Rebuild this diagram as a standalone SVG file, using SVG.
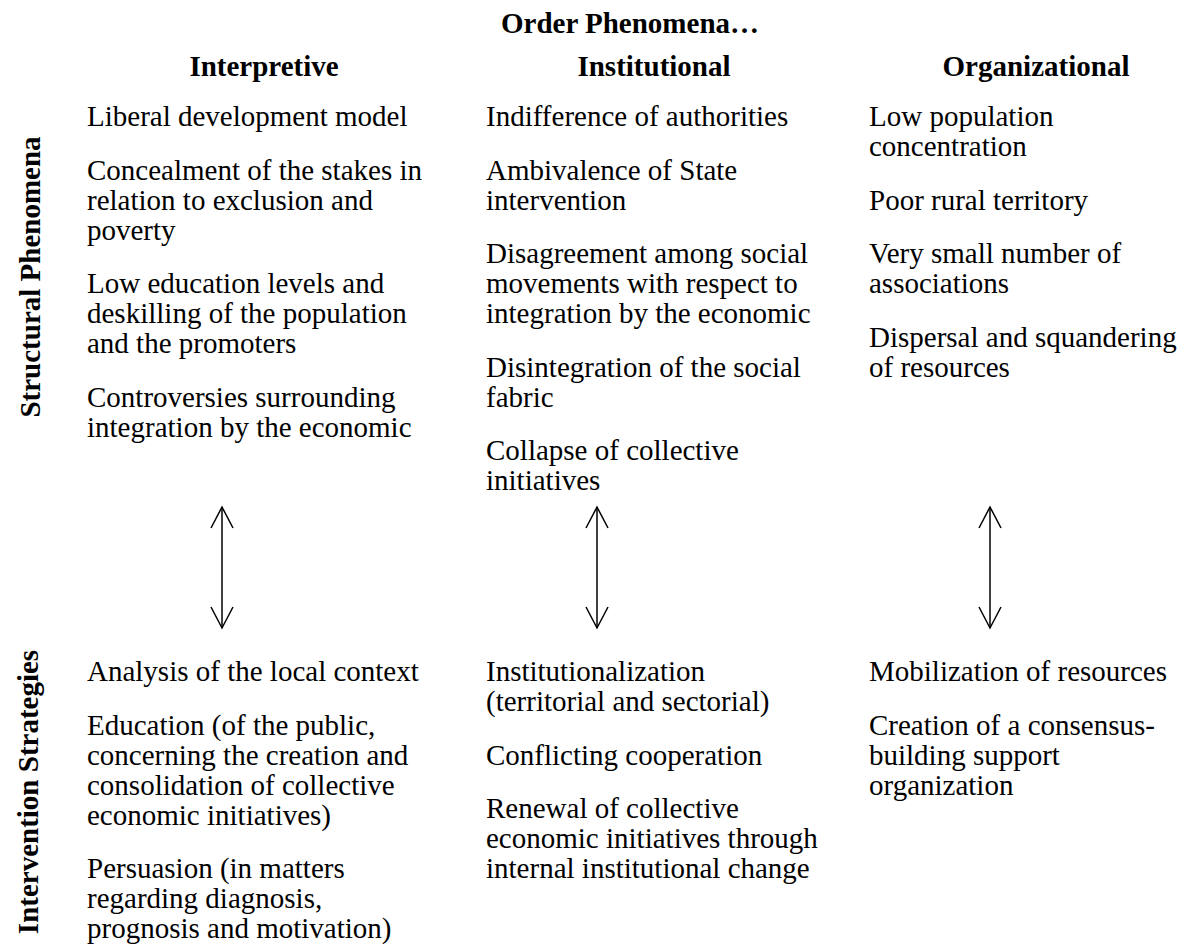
<svg xmlns="http://www.w3.org/2000/svg" width="1185" height="951" viewBox="0 0 1185 951">
  <style>
    text { font-family: "Liberation Serif", "Times New Roman", serif; fill: #000; font-size: 29px; }
    .head { font-weight: bold; text-anchor: middle; }
    .side { font-weight: bold; text-anchor: middle; }
    .conn { stroke: #000; stroke-width: 1.5; fill: none; }
  </style>
  <defs>
    <marker id="open-arrow" viewBox="-24 -13 26 26" refX="0" refY="0" markerWidth="26" markerHeight="26" markerUnits="userSpaceOnUse" orient="auto-start-reverse" overflow="visible">
      <path d="M-21,-11 L0,0 L-21,11" stroke="#000" stroke-width="1.5" fill="none"/>
    </marker>
  </defs>
  <rect width="1185" height="951" fill="#fff"/>

  <!-- column headings -->
  <g id="headings">
    <text class="head" x="630" y="33">Order Phenomena…</text>
    <text class="head" x="264" y="76">Interpretive</text>
    <text class="head" x="654" y="76">Institutional</text>
    <text class="head" x="1036" y="76">Organizational</text>
  </g>

  <!-- row labels -->
  <g id="row-structural">
    <text class="side" transform="translate(40,277) rotate(-90)">Structural Phenomena</text>
  </g>
  <g id="row-intervention">
    <text class="side" transform="translate(38,792) rotate(-90)">Intervention Strategies</text>
  </g>

  <!-- structural phenomena -->
  <g id="structural-interpretive">
    <text x="87" y="126">Liberal development model</text>
    <text x="87" y="179.5">Concealment of the stakes in</text>
    <text x="87" y="209.5">relation to exclusion and</text>
    <text x="87" y="239.5">poverty</text>
    <text x="87" y="293">Low education levels and</text>
    <text x="87" y="323">deskilling of the population</text>
    <text x="87" y="353">and the promoters</text>
    <text x="87" y="406.5">Controversies surrounding</text>
    <text x="87" y="436.5">integration by the economic</text>
  </g>
  <g id="structural-institutional">
    <text x="486" y="126">Indifference of authorities</text>
    <text x="486" y="179.5">Ambivalence of State</text>
    <text x="486" y="209.5">intervention</text>
    <text x="486" y="263">Disagreement among social</text>
    <text x="486" y="293">movements with respect to</text>
    <text x="486" y="323">integration by the economic</text>
    <text x="486" y="376.5">Disintegration of the social</text>
    <text x="486" y="406.5">fabric</text>
    <text x="486" y="460">Collapse of collective</text>
    <text x="486" y="490">initiatives</text>
  </g>
  <g id="structural-organizational">
    <text x="869" y="126">Low population</text>
    <text x="869" y="156">concentration</text>
    <text x="869" y="209.5">Poor rural territory</text>
    <text x="869" y="263">Very small number of</text>
    <text x="869" y="293">associations</text>
    <text x="869" y="346.5">Dispersal and squandering</text>
    <text x="869" y="376.5">of resources</text>
  </g>

  <!-- two-way links between phenomena and strategies -->
  <g id="connectors">
    <line class="conn" x1="222" y1="507" x2="222" y2="628" marker-start="url(#open-arrow)" marker-end="url(#open-arrow)"/>
    <line class="conn" x1="597" y1="507" x2="597" y2="628" marker-start="url(#open-arrow)" marker-end="url(#open-arrow)"/>
    <line class="conn" x1="990" y1="507" x2="990" y2="628" marker-start="url(#open-arrow)" marker-end="url(#open-arrow)"/>
  </g>

  <!-- intervention strategies -->
  <g id="strategies-interpretive">
    <text x="87" y="681">Analysis of the local context</text>
    <text x="87" y="734.5">Education (of the public,</text>
    <text x="87" y="764.5">concerning the creation and</text>
    <text x="87" y="794.5">consolidation of collective</text>
    <text x="87" y="824.5">economic initiatives)</text>
    <text x="87" y="878">Persuasion (in matters</text>
    <text x="87" y="908">regarding diagnosis,</text>
    <text x="87" y="938">prognosis and motivation)</text>
  </g>
  <g id="strategies-institutional">
    <text x="486" y="681">Institutionalization</text>
    <text x="486" y="711">(territorial and sectorial)</text>
    <text x="486" y="764.5">Conflicting cooperation</text>
    <text x="486" y="818">Renewal of collective</text>
    <text x="486" y="848">economic initiatives through</text>
    <text x="486" y="878">internal institutional change</text>
  </g>
  <g id="strategies-organizational">
    <text x="869" y="681">Mobilization of resources</text>
    <text x="869" y="734.5">Creation of a consensus-</text>
    <text x="869" y="764.5">building support</text>
    <text x="869" y="794.5">organization</text>
  </g>
</svg>
